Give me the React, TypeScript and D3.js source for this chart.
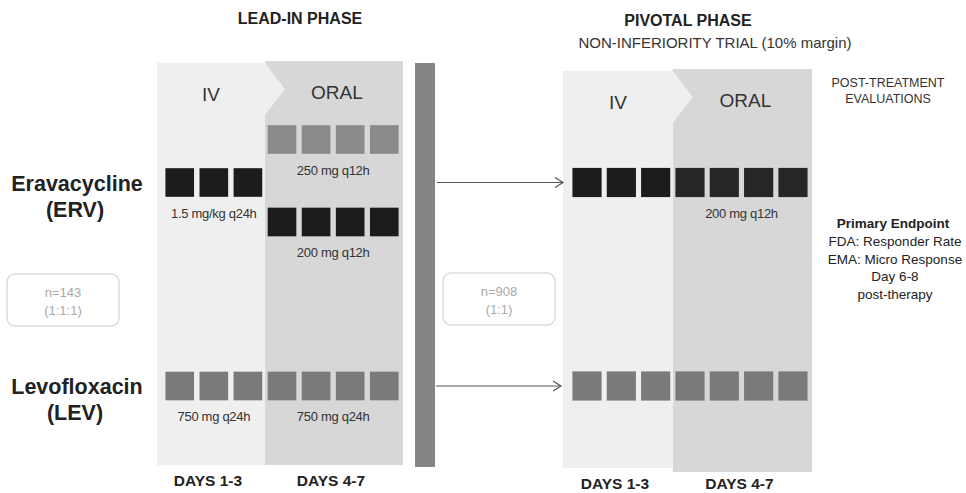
import * as d3 from 'd3';

const DAYS = [1, 2, 3, 4, 5, 6, 7];
const ROWS = ['erv250', 'erv', 'erv200', 'lev'];

const ARM_NAMES = ['Eravacycline', 'Levofloxacin'];
const ARM_CODES = ['(ERV)', '(LEV)'];
const ARM_ROWS = ['erv', 'lev'];

// lead-in phase regimens
const leadRow = ['erv', 'erv250', 'erv200', 'lev', 'lev'];
const leadDays = [[1, 2, 3], [4, 5, 6, 7], [4, 5, 6, 7], [1, 2, 3], [4, 5, 6, 7]];
const leadLabel = ['1.5 mg/kg q24h', '250 mg q12h', '200 mg q12h', '750 mg q24h', '750 mg q24h'];
const leadTone = ['dark', 'mid', 'dark', 'gray', 'gray'];

// pivotal phase regimens
const pivRow = ['erv', 'erv', 'lev'];
const pivDays = [[1, 2, 3], [4, 5, 6, 7], [1, 2, 3, 4, 5, 6, 7]];
const pivLabel = ['', '200 mg q12h', ''];
const pivTone = ['dark', 'dark2', 'gray'];

const SAMPLE = ['n=143', 'n=908'];
const RATIO = ['(1:1:1)', '(1:1)'];

const ENDPOINT = ['FDA: Responder Rate', 'EMA: Micro Response', 'Day 6-8', 'post-therapy'];

const TONES: Record<string, string> = {
  dark: '#1c1c1c',
  dark2: '#262626',
  mid: '#8a8a8a',
  gray: '#7a7a7a',
};

const FONT = 'Liberation Sans, Arial, sans-serif';

export default function App() {
  const W = 966;
  const H = 493;

  const xLead = d3.scaleBand<number>().domain(DAYS).range([162, 402]).paddingInner(0.16).paddingOuter(0.1);
  const xPiv = d3.scaleBand<number>().domain(DAYS).range([569, 811]).paddingInner(0.15).paddingOuter(0.1);
  const yRow = d3.scaleOrdinal<string, number>().domain(ROWS).range([139.5, 182.5, 222, 386]);

  const split = (x: d3.ScaleBand<number>) => (x(4) as number) - (x.step() * x.paddingInner()) / 2;

  const leadSplit = split(xLead);
  const pivSplit = split(xPiv);

  const panel = (mid: number, left: number, right: number, top: number, bottom: number, bottom2: number) => (
    <g>
      <rect x={mid} y={top - 2} width={right - mid} height={bottom2 - top + 2} fill="#d7d7d7" />
      <path
        d={`M${left},${top} L${mid},${top} L${mid + 20},${top + 26} L${mid},${top + 52} L${mid},${bottom} L${left},${bottom} Z`}
        fill="#efefef"
      />
      <text x={(left + mid) / 2} y={top + 38} textAnchor="middle" fontSize={19} fill="#333">IV</text>
      <text x={(mid + right) / 2 + 3} y={top + 36} textAnchor="middle" fontSize={19} fill="#333">ORAL</text>
    </g>
  );

  const squares = (
    x: d3.ScaleBand<number>,
    rows: string[],
    days: number[][],
    labels: string[],
    tones: string[],
    key: string,
  ) =>
    rows.map((r, i) => {
      const cy = yRow(r);
      const bw = x.bandwidth();
      const d0 = x(days[i][0]) as number;
      const d1 = (x(days[i][days[i].length - 1]) as number) + bw;
      return (
        <g key={`${key}${i}`}>
          {days[i].map((d) => (
            <rect key={d} x={x(d)} y={cy - bw / 2} width={bw} height={bw} fill={TONES[tones[i]]} />
          ))}
          {labels[i] && (
            <text x={(d0 + d1) / 2} y={cy + bw / 2 + 21} textAnchor="middle" fontSize={13} fill="#333" letterSpacing={-0.3}>
              {labels[i]}
            </text>
          )}
        </g>
      );
    });

  const arrow = (x0: number, x1: number, y: number) => (
    <g stroke="#555" strokeWidth={1.2} fill="none">
      <line x1={x0} y1={y} x2={x1} y2={y} />
      <path d={`M${x1 - 8},${y - 5} L${x1},${y} L${x1 - 8},${y + 5}`} />
    </g>
  );

  const box = (x: number, y: number, i: number) => (
    <g>
      <rect x={x} y={y} width={112} height={52} rx={8} fill="#fff" stroke="#dcdcdc" strokeWidth={1.5} />
      <text x={x + 56} y={y + 23} textAnchor="middle" fontSize={13} fill="#a8a8a8">{SAMPLE[i]}</text>
      <text x={x + 56} y={y + 41} textAnchor="middle" fontSize={13} fill="#a8a8a8">{RATIO[i]}</text>
    </g>
  );

  const dayLabels = (l: number, m: number, r: number, y: number) => (
    <g fontWeight="bold" fontSize={15.5} fill="#222" textAnchor="middle">
      <text x={(l + m) / 2 - 3} y={y}>DAYS 1-3</text>
      <text x={(m + r) / 2 - 3} y={y}>DAYS 4-7</text>
    </g>
  );

  return (
    <svg width={W} height={H} style={{ position: 'absolute', left: 0, top: 0, background: '#fff' }} fontFamily={FONT}>
      {/* titles */}
      <text x={300} y={24} textAnchor="middle" fontWeight="bold" fontSize={16} fill="#222">LEAD-IN PHASE</text>
      <text x={688} y={26} textAnchor="middle" fontWeight="bold" fontSize={16} fill="#222">PIVOTAL PHASE</text>
      <text x={715} y={48} textAnchor="middle" fontSize={15} fill="#333">NON-INFERIORITY  TRIAL (10% margin)</text>

      {panel(leadSplit, 157, 403, 63, 465, 465)}
      {panel(pivSplit, 563, 812, 71, 468, 472)}

      {/* separator bar */}
      <rect x={415} y={63} width={20} height={404} fill="#858585" />

      {/* arm names */}
      {ARM_NAMES.map((n, i) => {
        const cy = yRow(ARM_ROWS[i]);
        return (
          <g key={n} textAnchor="middle" fontWeight="bold" fill="#222">
            <text x={77} y={cy + 8} fontSize={21.5}>{n}</text>
            <text x={75} y={cy + 34} fontSize={21.5}>{ARM_CODES[i]}</text>
          </g>
        );
      })}

      {squares(xLead, leadRow, leadDays, leadLabel, leadTone, 'l')}
      {squares(xPiv, pivRow, pivDays, pivLabel, pivTone, 'p')}

      {arrow(437, 563, yRow('erv'))}
      {arrow(436, 561, yRow('lev'))}

      {box(7, 274, 0)}
      {box(443, 273, 1)}

      {/* post-treatment */}
      <g textAnchor="middle" fill="#333" fontSize={12.5}>
        <text x={888} y={87}>POST-TREATMENT</text>
        <text x={888} y={103}>EVALUATIONS</text>
      </g>
      <g textAnchor="middle" fill="#222" fontSize={13.5}>
        <text x={893} y={228} fontWeight="bold">Primary  Endpoint</text>
        {ENDPOINT.map((t, i) => (
          <text key={t} x={895} y={246 + i * 17.5}>{t}</text>
        ))}
      </g>

      {dayLabels(157, leadSplit, 403, 486)}
      {dayLabels(563, pivSplit, 812, 489)}
    </svg>
  );
}
